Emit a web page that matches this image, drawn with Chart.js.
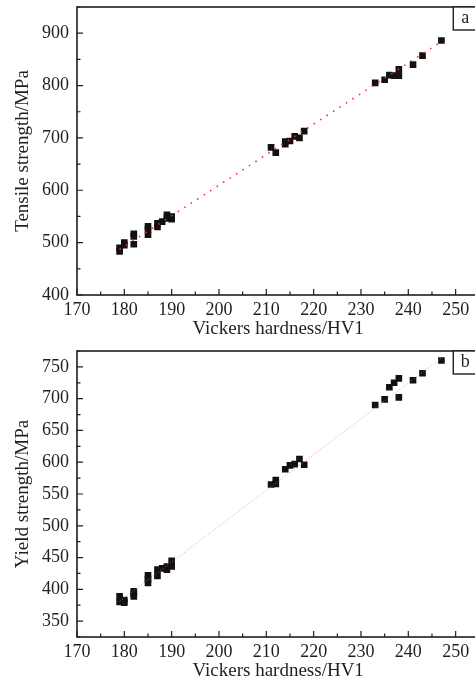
<!DOCTYPE html>
<html>
<head>
<meta charset="utf-8">
<script src="https://cdn.jsdelivr.net/npm/chart.js@4/dist/chart.umd.min.js"></script>
<style>
  html, body { margin: 0; padding: 0; background: #fff; overflow: hidden; width: 475px; height: 682px; }
  .panel { position: absolute; left: 0; }
</style>
</head>
<body>
<div class="panel" style="top:0"><canvas id="tensileChart" width="484" height="340"></canvas></div>
<div class="panel" style="top:340px"><canvas id="yieldChart" width="484" height="342"></canvas></div>
<script>
// tensile strength vs hardness (panel a)
const tensileHardness = [179, 179, 180, 180, 182, 182, 182, 185, 185, 185, 187, 187, 188, 189, 189, 190, 190,
    211, 212, 214, 214, 215, 216, 217, 218,
    233, 235, 236, 237, 238, 238, 241, 243, 247];
const tensileValues = [490, 483, 500, 495, 517, 512, 497, 531, 525, 515, 537, 530, 540, 553, 546, 550, 545,
    682, 672, 693, 688, 694, 703, 700, 713,
    805, 811, 820, 819, 819, 831, 840, 857, 886];

// yield strength vs hardness (panel b)
const yieldHardness = [179, 179, 180, 180, 182, 182, 182, 185, 185, 185, 187, 187, 188, 189, 189, 190, 190,
    211, 212, 212, 214, 215, 216, 217, 218,
    233, 235, 236, 237, 238, 238, 241, 243, 247];
const yieldValues = [389, 380, 383, 379, 397, 393, 389, 422, 416, 410, 431, 421, 433, 436, 431, 445, 436,
    565, 572, 566, 589, 595, 597, 605, 596,
    690, 699, 718, 725, 732, 702, 729, 740, 760];

// fitted lines (end points)
const fitHardness = [179, 247];
const fitTensile = [487, 884];
const fitYield = [381, 764];

const FONT = "'Liberation Serif', 'DejaVu Serif', serif";
const INK = '#1f1f1f';

function toPoints(xs, ys) {
    return xs.map((x, i) => ({x: x, y: ys[i]}));
}

// frame, inward ticks and the panel letter
const framePlugin = {
    id: 'framePlugin',
    afterDraw(chart, args, opts) {
        const {ctx, chartArea: a} = chart;
        const xs = chart.scales.x, ys = chart.scales.y;
        ctx.save();
        ctx.strokeStyle = INK;
        ctx.lineWidth = 1.6;
        ctx.strokeRect(a.left, a.top, a.right - a.left, a.bottom - a.top);

        ctx.lineWidth = 1.2;
        ctx.beginPath();
        xs.ticks.forEach(t => {
            const px = xs.getPixelForValue(t.value);
            const len = t.value % 10 === 0 ? 6 : 3.5;
            ctx.moveTo(px, a.bottom);
            ctx.lineTo(px, a.bottom - len);
        });
        ys.ticks.forEach(t => {
            const py = ys.getPixelForValue(t.value);
            const len = t.value % opts.yMajor === 0 ? 6 : 3.5;
            ctx.moveTo(a.left, py);
            ctx.lineTo(a.left + len, py);
        });
        ctx.stroke();

        // letter box
        const bw = 26, bh = 23;
        ctx.fillStyle = '#fff';
        ctx.fillRect(a.right - bw, a.top, bw, bh);
        ctx.lineWidth = 1.4;
        ctx.strokeRect(a.right - bw, a.top, bw, bh);
        ctx.fillStyle = INK;
        ctx.font = '18px ' + FONT;
        ctx.textAlign = 'center';
        ctx.textBaseline = 'middle';
        ctx.fillText(opts.letter, a.right - bw / 2 - 1, a.top + bh / 2);
        ctx.restore();
    }
};

function makeChart(id, pts, fit, yMin, yMax, yStep, yMajor, yTitle, letter, padTop, fitStyle) {
    const ctx = document.getElementById(id).getContext('2d');
    return new Chart(ctx, {
        type: 'scatter',
        data: {
            datasets: [{
                type: 'line',
                data: fit,
                showLine: true,
                pointRadius: 0,
                borderColor: fitStyle.color,
                borderWidth: fitStyle.width,
                borderDash: fitStyle.dash,
                fill: false
            }, {
                data: pts,
                pointStyle: 'rect',
                pointRadius: 4.7,
                pointBackgroundColor: '#111',
                pointBorderWidth: 0
            }]
        },
        options: {
            responsive: false,
            animation: false,
            layout: { padding: { top: padTop, right: 1.4, bottom: 0, left: 0 } },
            plugins: {
                legend: { display: false },
                tooltip: { enabled: false },
                framePlugin: { letter: letter, yMajor: yMajor }
            },
            scales: {
                x: {
                    type: 'linear',
                    min: 170,
                    max: 255,
                    afterFit: s => { s.height = 45; s.paddingLeft = 0; s.paddingRight = 0; },
                    grid: { display: false, drawTicks: false },
                    border: { display: false },
                    ticks: {
                        stepSize: 5,
                        autoSkip: false,
                        maxRotation: 0,
                        padding: 4,
                        color: INK,
                        font: { family: FONT, size: 18 },
                        callback: v => (v % 10 === 0 ? v : '')
                    },
                    title: {
                        display: true,
                        text: 'Vickers hardness/HV1',
                        color: INK,
                        padding: 0,
                        font: { family: FONT, size: 19 }
                    }
                },
                y: {
                    type: 'linear',
                    min: yMin,
                    max: yMax,
                    afterFit: s => { s.width = 77; s.paddingTop = 0; s.paddingBottom = 0; },
                    grid: { display: false, drawTicks: false },
                    border: { display: false },
                    ticks: {
                        stepSize: yStep,
                        autoSkip: false,
                        padding: 8,
                        color: INK,
                        font: { family: FONT, size: 18 },
                        callback: v => (v % yMajor === 0 ? v : '')
                    },
                    title: {
                        display: true,
                        text: yTitle,
                        color: INK,
                        padding: { top: 12, bottom: 0 },
                        font: { family: FONT, size: 19 }
                    }
                }
            }
        },
        plugins: [framePlugin]
    });
}

makeChart('tensileChart', toPoints(tensileHardness, tensileValues), toPoints(fitHardness, fitTensile),
    400, 950, 50, 100, 'Tensile strength/MPa', 'a', 7,
    { color: '#ff2a2a', width: 1.6, dash: [1.5, 6.2] });

makeChart('yieldChart', toPoints(yieldHardness, yieldValues), toPoints(fitHardness, fitYield),
    325, 775, 25, 50, 'Yield strength/MPa', 'b', 11,
    { color: 'rgba(240,120,120,0.75)', width: 1, dash: [1, 2] });
</script>
</body>
</html>
